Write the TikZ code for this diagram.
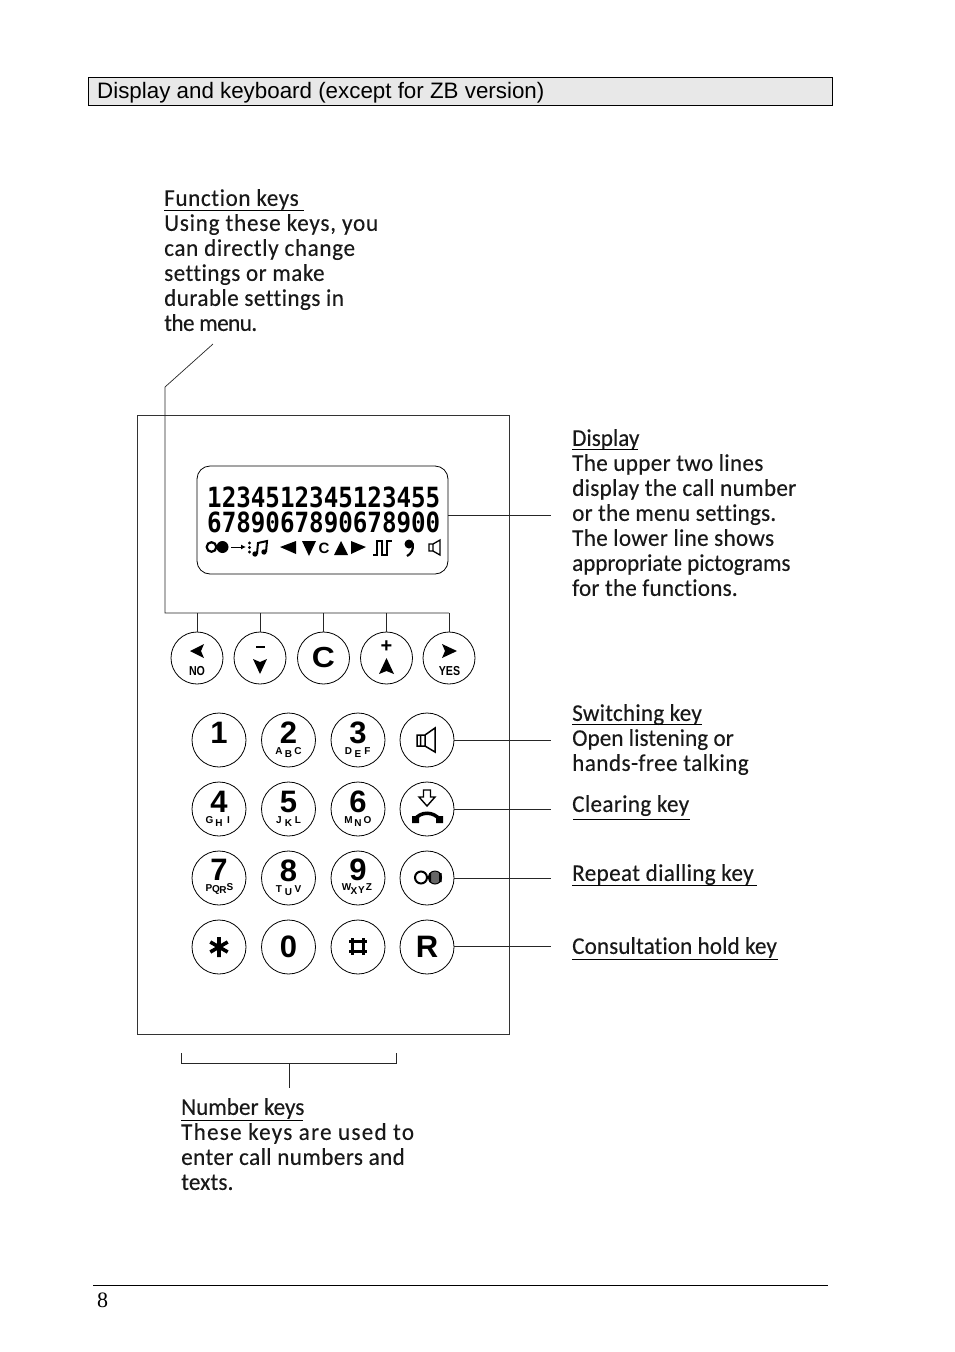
\documentclass[tikz,border=0pt]{standalone}
\usepackage{fontspec}
\usetikzlibrary{arrows.meta}
\setmainfont{Liberation Serif}
\newfontfamily\arialf{Liberation Sans}
\newfontfamily\letterf[FakeStretch=0.965,Ligatures=NoCommon,FakeBold=0.2]{Carlito}
\newfontfamily\lcdf{DejaVu Sans Mono}
\newcommand{\ls}[2]{{\addfontfeature{LetterSpace=#1}#2}}
\tikzset{
  x=1pt,y=-1pt,
  thinline/.style={draw=black!85,line width=0.7pt},
  keycircle/.style={circle,draw=black,line width=0.8pt,minimum size=54pt,inner sep=0pt},
  fkeycircle/.style={circle,draw=black,line width=0.8pt,minimum size=52pt,inner sep=0pt},
  digit/.style={font=\arialf\bfseries\fontsize{31}{31}\selectfont,inner sep=0pt},
  small/.style={font=\arialf\bfseries\fontsize{10}{10}\selectfont,inner sep=0pt},
  keylabel/.style={font=\arialf\bfseries\fontsize{13}{13}\selectfont,inner sep=0pt,xscale=0.82},
  note/.style={font=\letterf\fontsize{24}{25}\selectfont,anchor=north west,align=left,inner sep=0pt,text=black!90},
  ul/.style={draw=black,line width=1pt},
  lcd/.style={font=\lcdf\bfseries\fontsize{24.2}{24}\selectfont,inner sep=0pt,anchor=base west,yscale=1.15},
}
\newcommand{\numkey}[7]{% name x y digit l m r
  \node[keycircle] (#1) at (#2,#3) {};
  \node[digit] (#1d) at (#2,#3-7) {#4};
  \node[small] (#1l) at (#2-9.5,#3+11) {#5};
  \node[small] (#1m) at (#2,#3+14) {#6};
  \node[small] (#1r) at (#2+9.5,#3+11) {#7};
}
\begin{document}
\begin{tikzpicture}
\useasboundingbox (0,0) rectangle (954,1352);
\fill[white] (0,0) rectangle (954,1352);
% header
\node[draw=black,fill=black!9,line width=0.8pt,minimum width=744pt,minimum height=28pt,inner sep=0pt] (hdr) at (460,91) {};
\node[font=\arialf\fontsize{22.35}{22}\selectfont,anchor=base west,inner sep=0pt] (hdrt) at (97,98) {Display and keyboard (except for ZB version)};
% footer
\coordinate (fl) at (93,1285); \coordinate (fr) at (828,1285);
\draw[line width=0.7pt] (fl) -- (fr);
\node[font=\fontsize{22}{22}\selectfont,anchor=base west,inner sep=0pt] (pg) at (97,1307) {8};
% panel
\node[draw=black!80,line width=0.7pt,minimum width=372pt,minimum height=619pt,inner sep=0pt] (panel) at (323,724.5) {};
% display
\node[draw=black,line width=0.8pt,rounded corners=13pt,minimum width=251pt,minimum height=108pt,inner sep=0pt] (disp) at (322.5,520) {};
\node[lcd] (l1) at (207,507.5) {1234512345123455};
\node[lcd] (l2) at (207,532) {6789067890678900};
% pictogram row
\draw[line width=2.2pt] (211.5,547) circle (4.8);
\fill (222.5,547) circle (6);
\draw[line width=1pt,-{Latex[length=5pt,width=5pt]}] (231,547) -- (246,547);
\fill (249.5,543) circle (1.6) (249.5,547.5) circle (1.6) (249.5,552) circle (1.6);
\draw[line width=2pt] (257,554) -- (258,543) -- (267,541) -- (266,552);
\fill (255,554) circle (2.7) (264,552) circle (2.7);
\fill (280,547) -- (296,541) -- (296,554) -- cycle;
\fill (302,541) -- (316,541) -- (309,556) -- cycle;
\node[font=\arialf\bfseries\fontsize{15}{15}\selectfont,inner sep=0pt] (lcdc) at (324,548) {C};
\fill (341,541) -- (348,555) -- (334,555) -- cycle;
\fill (366,547) -- (351,541) -- (351,554) -- cycle;
\draw[line width=1.6pt] (373,555) -- (377,555) -- (377,541) -- (382,541) -- (382,555) -- (387,555) -- (387,541) -- (392,541);
\fill (409,544) circle (4.5);
\draw[line width=2.2pt] (412.5,543) .. controls (414,550) and (411,554) .. (407,556);
\draw[line width=1.3pt] (429,544) rectangle (433,551) (433,544) -- (440,540) -- (440,555) -- (433,551);
% function keys
\foreach \n/\x in {fa/197,fb/260,fc/323.5,fd/386.5,fe/449}{
  \node[fkeycircle] (\n) at (\x,658) {};
}
\fill (190,651) -- (204,644) -- (201,651) -- (204,658) -- cycle;
\node[keylabel] (no) at (197,671) {NO};
\fill (255.5,646) rectangle (264.5,648);
\fill (260,674) -- (253,659) -- (260,662) -- (267,659) -- cycle;
\node[font=\arialf\bfseries\fontsize{29}{29}\selectfont,inner sep=0pt,xscale=1.1] (cc) at (323.5,658) {C};
\node[small,font=\arialf\bfseries\fontsize{20}{20}\selectfont] (pl) at (386.5,647) {+};
\fill (386.5,658) -- (394,674) -- (386.5,671) -- (379,674) -- cycle;
\fill (457,651) -- (442,644) -- (445,651) -- (442,658) -- cycle;
\node[keylabel] (yes) at (449.5,671) {YES};
% number keys
\numkey{ka}{219}{740}{1}{}{}{}
\numkey{kb}{288.5}{740}{2}{A}{B}{C}
\numkey{kc}{358}{740}{3}{D}{E}{F}
\node[keycircle] (kd) at (427,740) {};
\numkey{ke}{219}{809}{4}{G}{H}{I}
\numkey{kf}{288.5}{809}{5}{J}{K}{L}
\numkey{kg}{358}{809}{6}{M}{N}{O}
\node[keycircle] (kh) at (427,809) {};
\node[keycircle] (ki) at (219,878) {};
\node[digit] (kid) at (219,870) {7};
\node[small] (kip) at (209,888) {P};
\node[small] (kiq) at (216,890) {Q};
\node[small] (kir) at (223,890) {R};
\node[small] (kis) at (230,887) {S};
\numkey{kj}{288.5}{878}{8}{T}{U}{V}
\node[keycircle] (kk) at (358,878) {};
\node[digit] (kkd) at (358,870) {9};
\node[small] (kkw) at (346.5,887) {W};
\node[small] (kkx) at (354,891) {X};
\node[small] (kky) at (361.5,890) {Y};
\node[small] (kkz) at (369,887) {Z};
\node[keycircle] (kl) at (427,878) {};
\node[keycircle] (km) at (219,947) {};
\node[keycircle] (kn) at (288.5,947) {};
\node[digit] (knd) at (288.5,947) {0};
\node[keycircle] (ko) at (358,947) {};
\node[keycircle] (kp) at (427,947) {};
\node[digit] (kpd) at (427,947) {R};
% star
\draw[line width=3.6pt] (219,937) -- (219,957) (210.3,942) -- (227.7,952) (210.3,952) -- (227.7,942);
% hash
\draw[line width=2.2pt] (352.5,938) -- (352.5,955) (363.5,938) -- (363.5,955) (349,941.5) -- (367,941.5) (349,951.5) -- (367,951.5);
% speaker
\draw[line width=1.5pt] (417,735) rectangle (425,746) (420.5,735) -- (420.5,746) (425,735) -- (435,728) -- (435,752) -- (425,746);
% clearing
\draw[line width=1.4pt] (423.5,790) -- (430.5,790) -- (430.5,797) -- (435,797) -- (427,806) -- (419,797) -- (423.5,797) -- cycle;
\draw[line width=3.5pt,line cap=round] (414.5,820) .. controls (420,811) and (434,811) .. (440,820);
\fill (412,816) rectangle (419,823) (436,816) rectangle (443,823);
% repeat icon
\draw[line width=2pt] (421,877.5) circle (6);
\fill[black!60] (435,877.5) circle (6.5);
\draw[line width=1pt] (435,877.5) circle (6.5);
\fill (429,873) rectangle (431,882) (439,873) rectangle (441.5,882);
% connectors
\coordinate (fn1) at (213,344);
\coordinate (fn2) at (165,387);
\coordinate (fn3) at (165,613);
\coordinate (fn4) at (449,613);
\draw[thinline] (fn1) -- (fn2) -- (fn3) -- (fn4);
\foreach \n in {fa,fb,fc,fd,fe}{ \draw[thinline] (\n.north) -- (\n.north |- fn3); }
\coordinate (dr) at (551,515);
\draw[thinline] (disp.east |- dr) -- (dr);
\coordinate (sw) at (551,740); \coordinate (cl) at (551,809); \coordinate (re) at (551,878); \coordinate (co) at (551,946);
\draw[thinline] (kd.east) -- (sw);
\draw[thinline] (kh.east) -- (cl);
\draw[thinline] (kl.east) -- (re);
\draw[thinline] (kp.east |- co) -- (co);
\coordinate (b1) at (181,1053); \coordinate (b2) at (181,1063); \coordinate (b3) at (396,1063); \coordinate (b4) at (396,1053);
\coordinate (b5) at (289,1063); \coordinate (b6) at (289,1088);
\draw[thinline] (b1) -- (b2) -- (b3) -- (b4);
\draw[thinline] (b5) -- (b6);
% notes
\node[note] (nf) at (164,189) {\ls{2.5}{Function keys}\\\ls{3.2}{Using these keys, you}\\\ls{2.6}{can directly change}\\\ls{1.8}{settings or make}\\\ls{1.75}{durable settings in}\\\ls{-2.3}{the menu.}};
\draw[ul] (164,210) -- (304,210);
\node[note] (nd) at (572,429) {Display\\\ls{1.3}{The upper two lines}\\\ls{1.3}{display the call number}\\\ls{0.8}{or the menu settings.}\\\ls{1.25}{The lower line shows}\\\ls{-0.4}{appropriate pictograms}\\\ls{0.9}{for the functions.}};
\draw[ul] (572,449.5) -- (638,449.5);
\node[note] (ns) at (572,704) {\ls{1}{Switching key}\\\ls{0.2}{Open listening or}\\\ls{1.85}{hands-free talking}};
\draw[ul] (572,724.5) -- (702,724.5);
\node[note] (nc) at (572,795) {\ls{1.4}{Clearing key}};
\draw[ul] (573,819) -- (690,819);
\node[note] (nr) at (572,864) {\ls{1.5}{Repeat dialling key}};
\draw[ul] (572,885.5) -- (757,885.5);
\node[note] (nh) at (572,937) {\ls{0.4}{Consultation hold key}};
\draw[ul] (572,959.5) -- (778,959.5);
\node[note] (nn) at (181,1098) {Number keys\\\ls{5.1}{These keys are used to}\\\ls{1.7}{enter call numbers and}\\\ls{0.7}{texts.}};
\draw[ul] (181,1120) -- (303,1120);
\end{tikzpicture}
\end{document}
